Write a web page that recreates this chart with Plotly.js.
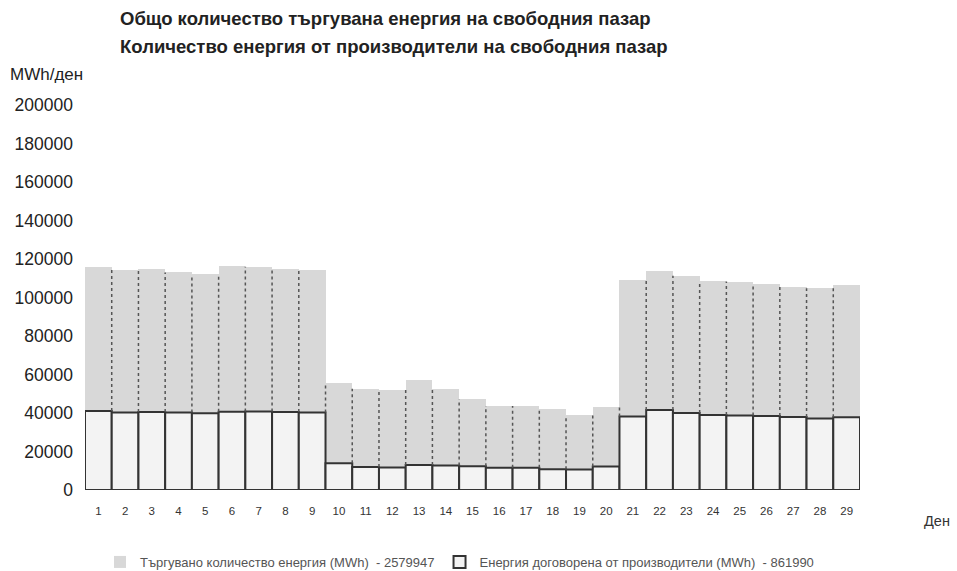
<!DOCTYPE html>
<html>
<head>
<meta charset="utf-8">
<script src="https://cdn.plot.ly/plotly-3.0.1.min.js"></script>
<style>html,body{margin:0;padding:0;background:#fff;}#chart{width:957px;height:571px;}</style>
</head>
<body>
<div id="chart"></div>
<script>
const days = [1,2,3,4,5,6,7,8,9,10,11,12,13,14,15,16,17,18,19,20,21,22,23,24,25,26,27,28,29];
const traded = [115800,114500,114800,113000,112000,116500,116000,114800,114500,
  55500,52600,52200,57000,52700,47200,43700,43600,42000,38800,42900,
  109000,114000,111300,108600,108300,107200,105700,104800,106600];
const producers = [41000,40300,40500,40200,39900,40600,40800,40500,40200,
  13900,12000,11700,13000,12700,12400,11600,11600,10800,10600,12200,
  38200,41500,40000,39000,38700,38400,37900,37200,37800];
const tradedName = "Търгувано количество енергия (MWh)  - 2579947";
const producersName = "Енергия договорена от производители (MWh)  - 861990";
const titleLines = ["Общо количество търгувана енергия на свободния пазар",
                    "Количество енергия от производители на свободния пазар"];
const yTicks = [0,20000,40000,60000,80000,100000,120000,140000,160000,180000,200000];

// dotted edge lines between adjacent bars inside the grey area (derived from data)
const edgeX = [], edgeY = [];
for (let i = 0; i < days.length - 1; i++) {
  const xb = days[i] + 0.5;
  edgeX.push(xb, xb, null);
  edgeY.push(Math.max(producers[i], producers[i+1]), Math.min(traded[i], traded[i+1]), null);
}

const FONT = "Liberation Sans, Arial, sans-serif";

const data = [
  {type:'bar', x:days, y:traded, name:tradedName,
   marker:{color:'#d8d8d8', line:{width:0}}, hoverinfo:'y'},
  {type:'scatter', mode:'lines', x:edgeX, y:edgeY, showlegend:false,
   line:{color:'#555', width:1.5, dash:'dot'}, hoverinfo:'skip'},
  {type:'bar', x:days, y:producers, name:producersName,
   marker:{color:'#f3f3f3', line:{color:'#333', width:2}}, hoverinfo:'y'}
];

const layout = {
  width:957, height:571,
  margin:{l:85, r:97, t:105, b:81, autoexpand:false},
  paper_bgcolor:'#fff', plot_bgcolor:'#fff',
  barmode:'overlay', bargap:0,
  font:{family:FONT, color:'#222'},
  xaxis:{range:[0.5,29.5], tickmode:'array', tickvals:days, ticktext:days.map(String),
         showgrid:false, zeroline:false, showline:false, ticks:'',
         tickfont:{size:11.5, color:'#333'}, ticklabelstandoff:12},
  yaxis:{range:[0,200000], tickmode:'array', tickvals:yTicks, ticktext:yTicks.map(String),
         showgrid:false, zeroline:false, showline:false, ticks:'',
         tickfont:{size:17.5, color:'#222'}, ticklabelstandoff:11},
  showlegend:true,
  legend:{orientation:'h', xref:'container', yref:'container',
          x:100/957, xanchor:'left', y:(571-562)/571, yanchor:'middle',
          font:{size:13, color:'#555'}, itemwidth:30, tracegroupgap:0,
          bgcolor:'rgba(0,0,0,0)'},
  annotations:[
    {xref:'paper', yref:'paper', x:(118-85)/775, y:(490-18)/385, xanchor:'left', yanchor:'middle',
     text:'<b>'+titleLines[0]+'</b>', showarrow:false, font:{size:18.5, color:'#222'}},
    {xref:'paper', yref:'paper', x:(118-85)/775, y:(490-46)/385, xanchor:'left', yanchor:'middle',
     text:'<b>'+titleLines[1]+'</b>', showarrow:false, font:{size:18.5, color:'#222'}},
    {xref:'paper', yref:'paper', x:(8-85)/775, y:(490-75)/385, xanchor:'left', yanchor:'middle',
     text:'MWh/ден', showarrow:false, font:{size:17, color:'#222'}},
    {xref:'paper', yref:'paper', x:(952-85)/775, y:(490-521)/385, xanchor:'right', yanchor:'middle',
     text:'Ден', showarrow:false, font:{size:14.5, color:'#333'}}
  ]
};

Plotly.newPlot('chart', data, layout, {displayModeBar:false, staticPlot:true});
</script>
</body>
</html>
